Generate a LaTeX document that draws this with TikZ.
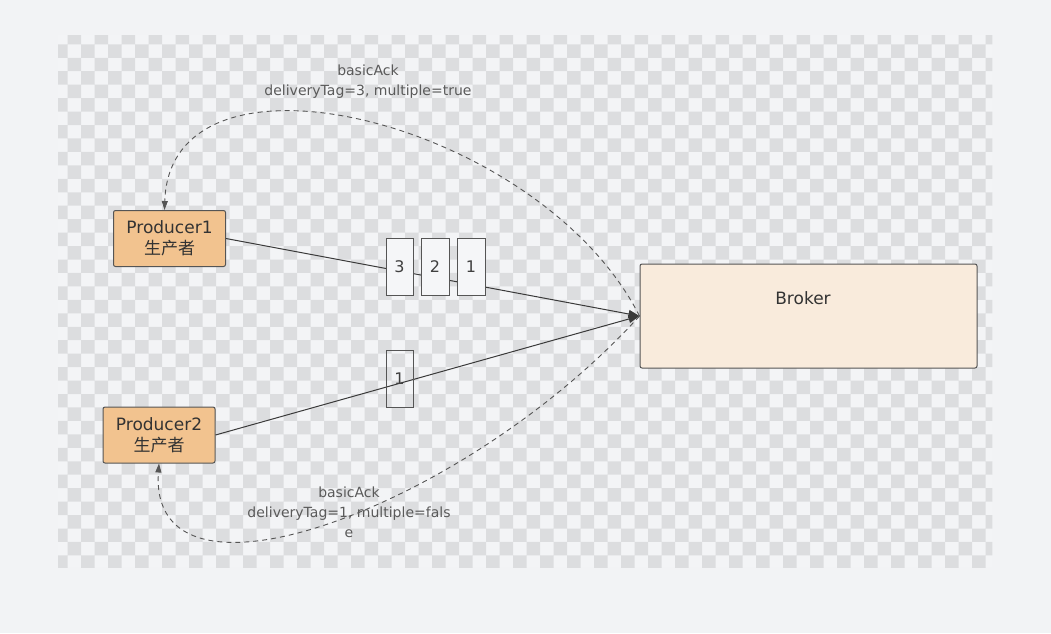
\documentclass[tikz,border=0pt]{standalone}
\usepackage{fontspec}
\setmainfont{DejaVu Sans}
\newfontfamily\cjkfont{Noto Sans CJK SC}
\usetikzlibrary{arrows.meta}
\definecolor{bgc}{HTML}{F2F3F5}
\definecolor{lightsq}{HTML}{F3F4F6}
\definecolor{darksq}{HTML}{DCDDDF}
\definecolor{prodfill}{HTML}{F2C38F}
\definecolor{brokerfill}{HTML}{F9EBDC}
\definecolor{edgec}{HTML}{555555}
\definecolor{linec}{HTML}{3A3A3A}
\definecolor{labelc}{HTML}{5A5A5A}
\definecolor{msgfill}{HTML}{F5F6F8}
\tikzset{
  prodbox/.style={draw=edgec, line width=1pt, fill=prodfill, rounded corners=2pt,
    minimum width=112pt, minimum height=56pt, inner sep=0pt, align=center,
    font=\fontsize{17}{21}\selectfont, text=black!80},
  brokerbox/.style={draw=edgec, line width=1pt, fill=brokerfill, rounded corners=2pt,
    minimum width=337pt, minimum height=104pt, inner sep=0pt},
  msgbox/.style={draw=edgec, line width=0.9pt, minimum width=27pt, minimum height=57pt,
    inner sep=0pt, font=\fontsize{16}{19}\selectfont, text=black!75},
  sendline/.style={draw=linec, line width=1pt, -{Triangle[length=11pt,width=8pt]}},
  ackline/.style={draw=edgec, line width=0.9pt, dash pattern=on 5pt off 4pt,
    -{Triangle[length=9pt,width=6pt]}},
  acklabel/.style={font=\fontsize{14}{20}\selectfont, text=labelc, align=center, inner sep=0pt},
  bigtext/.style={font=\fontsize{17}{21}\selectfont, text=black!80, inner sep=0pt}
}
\begin{document}
\begin{tikzpicture}[x=1pt,y=-1pt]
\useasboundingbox (0,0) rectangle (1051,633);
\fill[bgc] (0,0) rectangle (1051,633);
% transparency checkerboard
\begin{scope}
\clip (58,35) rectangle (992.3,567.3);
\fill[lightsq] (58,35) rectangle (992.3,567.3);
\fill[darksq]
  \foreach \r in {0,2,...,38}{ \foreach \c in {0,2,...,68}{
     ({67.7+13.5*\c},{44.3+13.45*(\r-1)}) rectangle ++(13.5,13.45) } }
  \foreach \r in {1,3,...,39}{ \foreach \c in {-1,1,...,67}{
     ({67.7+13.5*\c},{44.3+13.45*(\r-1)}) rectangle ++(13.5,13.45) } };
\end{scope}

% nodes
\node[prodbox] (p1) at (169.5,238.5) {Producer1\\{\cjkfont 生产者}};
\node[prodbox] (p2) at (159,435) {Producer2\\{\cjkfont 生产者}};
\node[brokerbox] (broker) at (808.5,316) {};
\node[bigtext] (brokertext) at (803,298) {Broker};

% send lines
\draw[sendline] (p1.east) -- (broker.west);
\draw[sendline] (p2.east) -- (broker.west);

% messages
\node[msgbox, fill=msgfill] (m3) at (399.5,266.5) {3};
\node[msgbox, fill=msgfill, minimum width=28pt] (m2) at (435,266.5) {2};
\node[msgbox, fill=msgfill, minimum width=28pt] (m1) at (471,266.5) {1};
\node[msgbox] (m4) at (399.5,378.5) {1};

% acks
\draw[ackline] (broker.west) .. controls (540,120) and (170,30) .. ([xshift=-5pt]p1.north);
\draw[ackline] (broker.west) .. controls (465,508) and (148,625) .. (p2.south);

\node[acklabel] (ack1) at (368,82) {basicAck\\deliveryTag=3, multiple=true};
\node[acklabel] (ack2) at (349,512) {basicAck\\deliveryTag=1, multiple=fals\\e};
\end{tikzpicture}
\end{document}
